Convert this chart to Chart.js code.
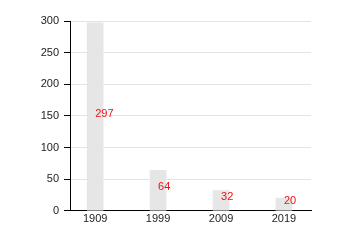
<!DOCTYPE html>
<html><head><meta charset="utf-8">
<script src="https://cdn.jsdelivr.net/npm/chart.js@4"></script>
<style>html,body{margin:0;padding:0;background:#fff}#w{width:350px;height:250px}</style>
</head><body><div id="w"><canvas id="c"></canvas></div>
<script>
const categories = ["1909", "1999", "2009", "2019"];
const values = [297, 64, 32, 20];
const yTicks = [0, 50, 100, 150, 200, 250, 300];

const labelPlugin = {
  id: 'vlabels',
  afterDatasetsDraw(chart) {
    const ctx = chart.ctx;
    const meta = chart.getDatasetMeta(0);
    ctx.save();
    ctx.font = '11px "Liberation Sans", Arial, sans-serif';
    ctx.fillStyle = '#ee1111';
    ctx.textAlign = 'left';
    ctx.textBaseline = 'middle';
    meta.data.forEach((bar, i) => {
      const y = (bar.y + bar.base) / 2 - 3;
      ctx.fillText(String(values[i]), bar.x, y);
    });
    ctx.restore();
  }
};

new Chart(document.getElementById('c'), {
  type: 'bar',
  data: {
    datasets: [{
      data: values.map((v, i) => ({x: i, y: v})),
      backgroundColor: '#e6e6e6',
      borderWidth: 0,
      barThickness: 16
    }]
  },
  options: {
    responsive: true,
    maintainAspectRatio: false,
    animation: false,
    layout: {padding: {top: 21, right: 39, bottom: 22, left: 0}},
    plugins: {legend: {display: false}, tooltip: {enabled: false}},
    scales: {
      x: {
        type: 'linear',
        min: -0.4,
        max: 3.43,
        offset: false,
        afterBuildTicks(scale) { scale.ticks = categories.map((c, i) => ({value: i})); },
        ticks: {
          callback: (v) => categories[v],
          color: '#222',
          font: {family: '"Liberation Sans", Arial, sans-serif', size: 11},
          padding: 2
        },
        grid: {display: false, drawTicks: false},
        border: {display: true, color: '#000', width: 1}
      },
      y: {
        min: 0,
        max: 300,
        afterBuildTicks(scale) { scale.ticks = yTicks.map(v => ({value: v})); },
        afterFit(scale) { scale.width = 70; },
        ticks: {
          color: '#222',
          font: {family: '"Liberation Sans", Arial, sans-serif', size: 11},
          padding: 5
        },
        grid: {color: '#e4e4e4', tickColor: '#000', tickLength: 6, drawOnChartArea: true},
        border: {display: true, color: '#000', width: 1}
      }
    }
  },
  plugins: [labelPlugin]
});
</script>
</body></html>
